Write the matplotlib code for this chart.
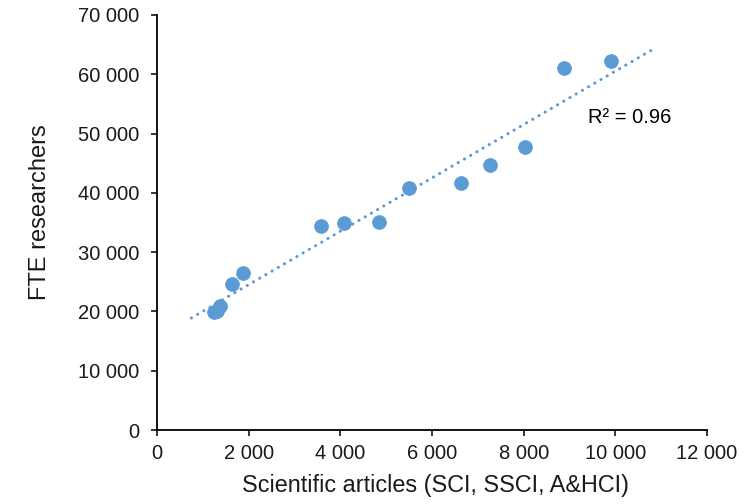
import numpy as np
import matplotlib
matplotlib.use("Agg")
import matplotlib.pyplot as plt
from matplotlib.ticker import FuncFormatter, MultipleLocator

# Scientific articles vs FTE researchers
articles = [1240, 1300, 1370, 1640, 1870, 3570, 4090, 4850, 5490, 6630, 7270, 8020, 8890, 9900]
researchers = [19900, 20150, 20900, 24700, 26450, 34400, 35000, 35150, 40800, 41600, 44750, 47700, 61100, 62250]

# trend line extent (backward / forward forecast)
trend_from = 750
trend_to = 10850

x_label = "Scientific articles (SCI, SSCI, A&HCI)"
y_label = "FTE researchers"

plt.rcParams["font.family"] = ["Liberation Sans", "DejaVu Sans"]

blue = "#5B9BD5"

fig = plt.figure(figsize=(7.51, 5.04), dpi=100)
ax = fig.add_axes([157 / 751, 74 / 504, 550 / 751, 415 / 504])

x = np.array(articles, dtype=float)
y = np.array(researchers, dtype=float)

ax.scatter(x, y, s=100, color=blue, edgecolors=blue, linewidths=0.5, zorder=3)

# linear least-squares trend line and its R²
slope, intercept = np.polyfit(x, y, 1)
pred = slope * x + intercept
r2 = 1 - np.sum((y - pred) ** 2) / np.sum((y - y.mean()) ** 2)
tx = np.array([trend_from, trend_to], dtype=float)
ax.plot(tx, slope * tx + intercept, color=blue, linewidth=2.2,
        dashes=(0.05, 2.3), dash_capstyle="round", zorder=4)
ax.text(9400, 52700, f"R² = {r2:.2f}", fontsize=14.5, ha="left", va="center",
        color="#000000")

ax.set_xlim(0, 12000)
ax.set_ylim(0, 70000)
ax.xaxis.set_major_locator(MultipleLocator(2000))
ax.yaxis.set_major_locator(MultipleLocator(10000))

def thousands(v, _):
    return f"{int(round(v)):,}".replace(",", " ")

ax.xaxis.set_major_formatter(FuncFormatter(thousands))
ax.yaxis.set_major_formatter(FuncFormatter(thousands))

for side in ("top", "right"):
    ax.spines[side].set_visible(False)
for side in ("left", "bottom"):
    ax.spines[side].set_linewidth(1.3)
    ax.spines[side].set_color("#000000")

ax.tick_params(axis="both", which="major", direction="out", length=4,
               width=1.1, color="#000000", labelsize=14.5, labelcolor="#1a1a1a")
ax.tick_params(axis="y", pad=9)
ax.tick_params(axis="x", pad=6)

ax.set_xlabel(x_label, fontsize=16.8, color="#1a1a1a")
ax.set_ylabel(y_label, fontsize=17, color="#1a1a1a")
ax.xaxis.set_label_coords(0.507, -0.105)
ax.yaxis.set_label_coords(-0.193, 0.524)

fig.savefig("out.png", dpi=100)
